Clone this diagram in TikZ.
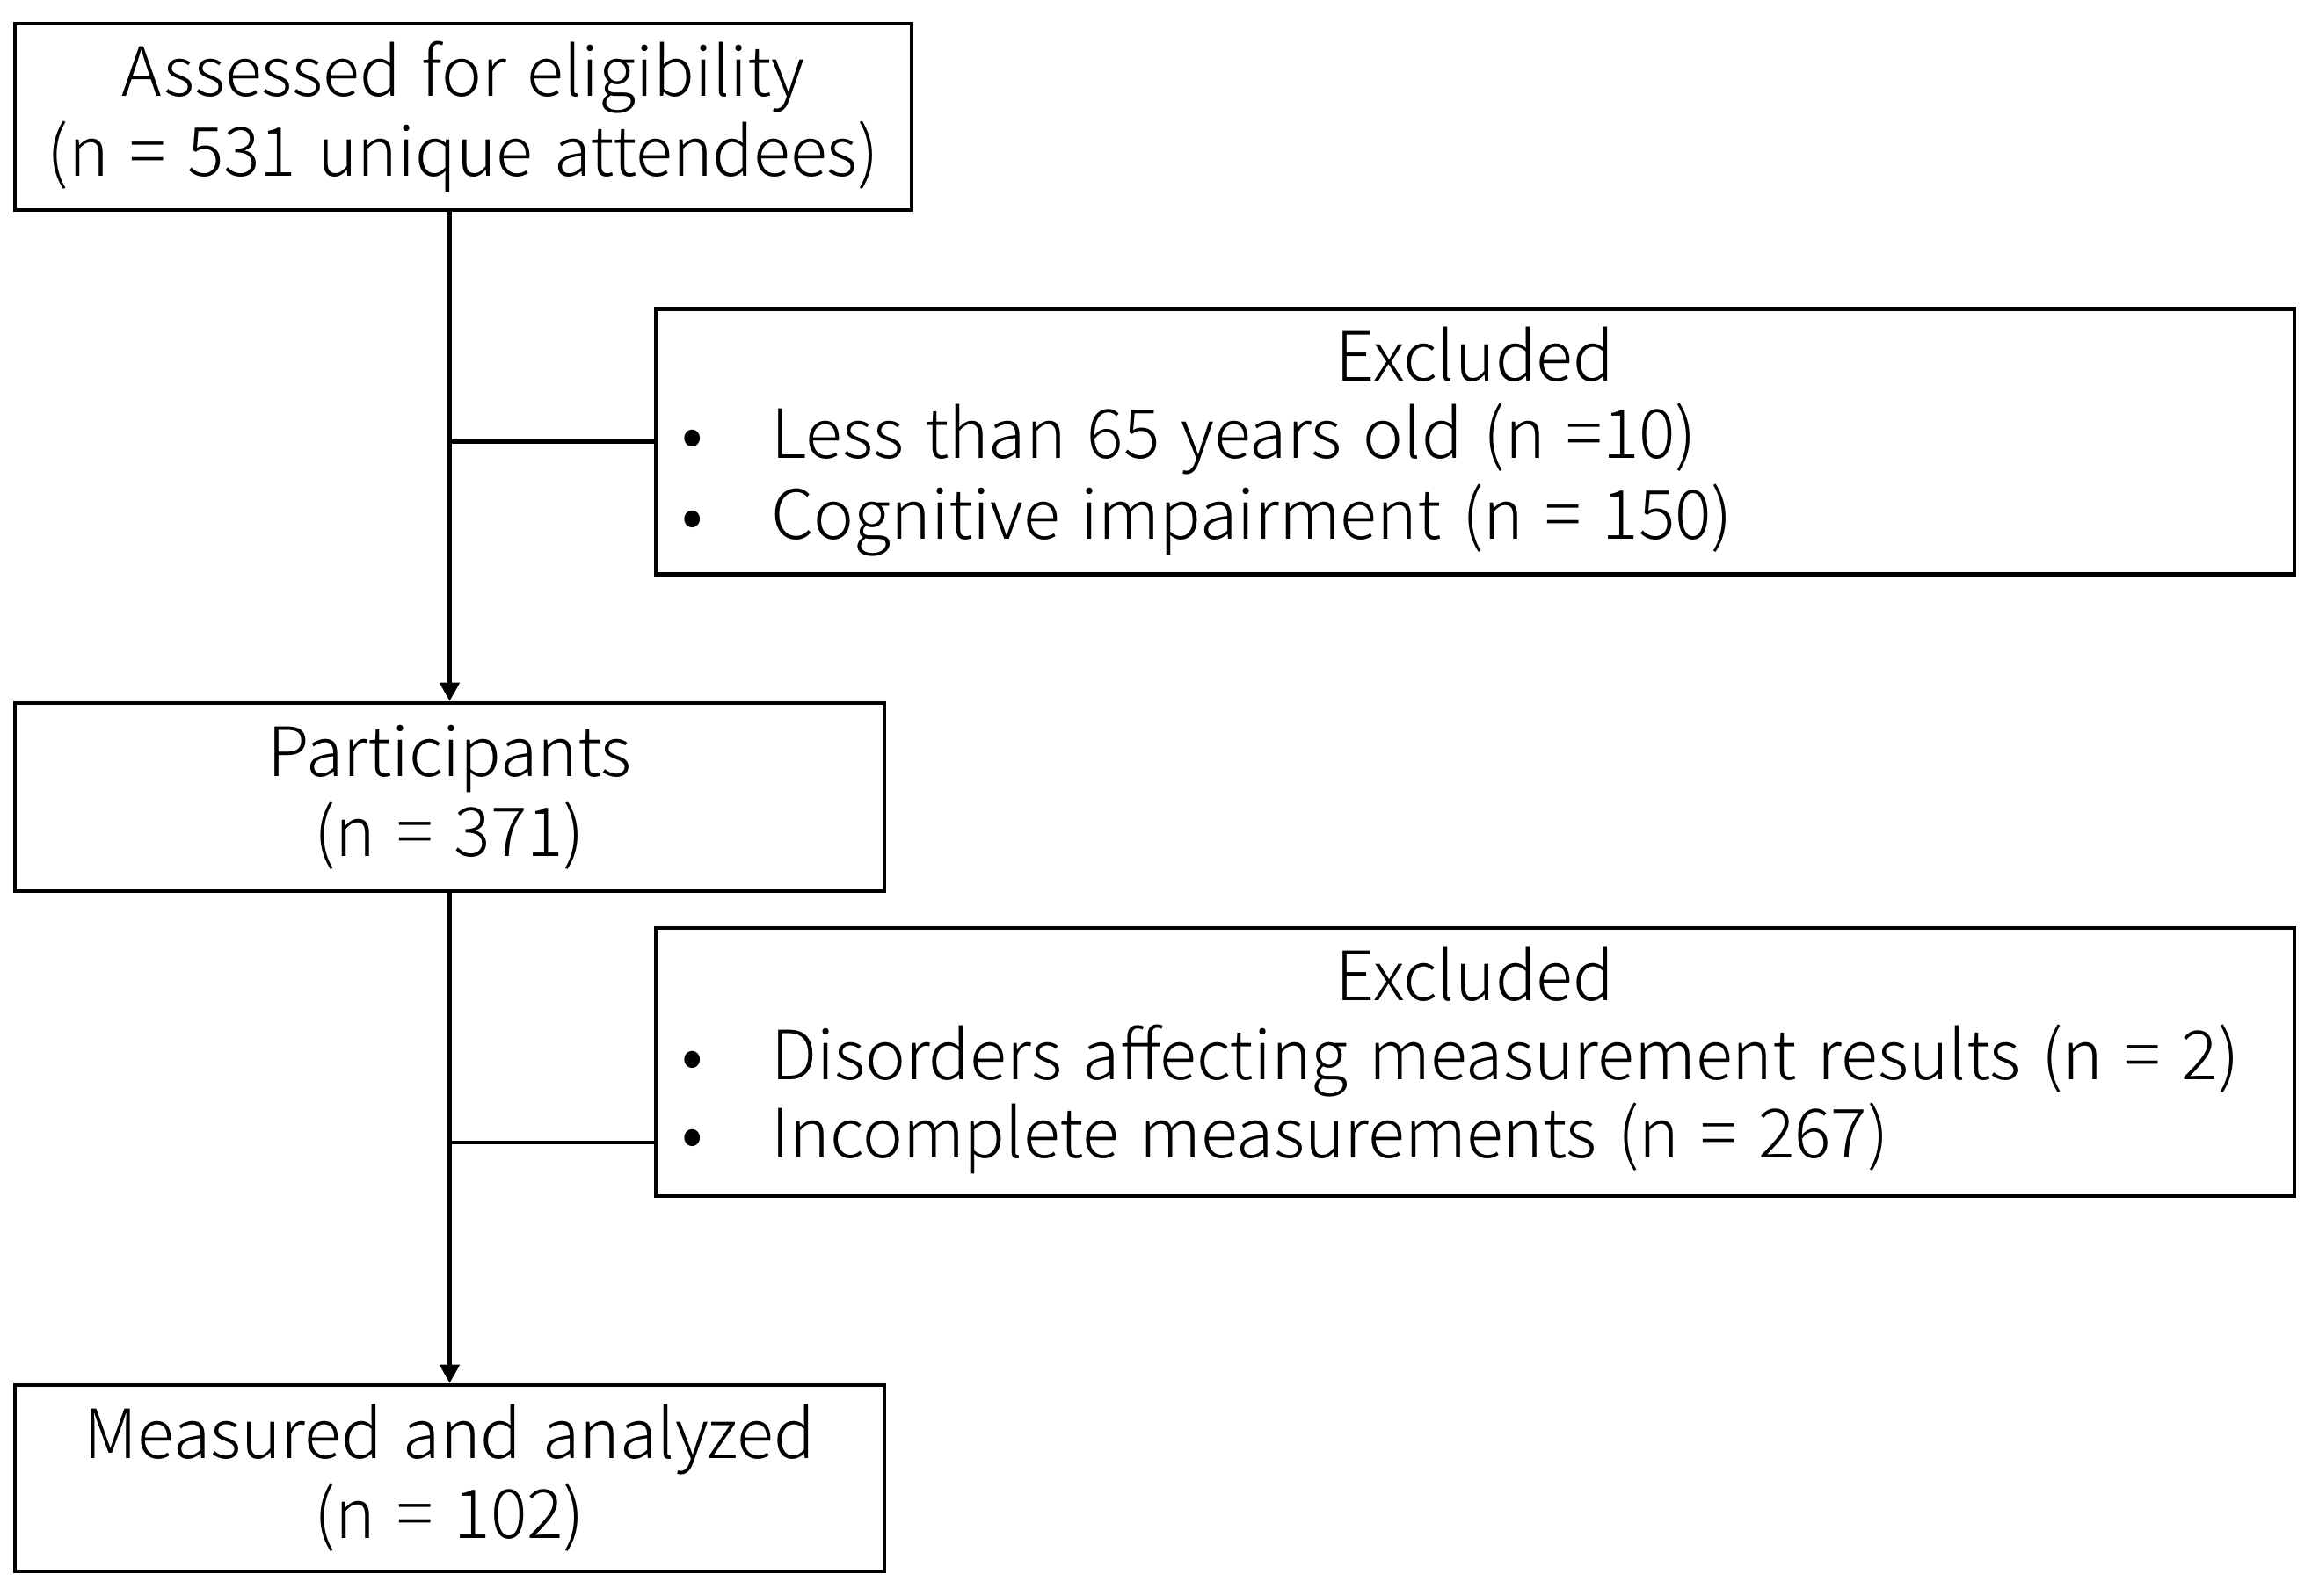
\documentclass[tikz,border=0pt]{standalone}
\usepackage{fontspec}
\setmainfont{Noto Sans CJK JP Light}[WordSpace=1.4]
\usetikzlibrary{arrows.meta}
\begin{document}
\begin{tikzpicture}[
  box/.style={draw,line width=1.3pt,align=center,inner sep=0pt,font=\fontsize{22}{25.9}\selectfont},
  txt/.style={anchor=base,inner sep=0pt,font=\fontsize{22}{25.9}\selectfont},
  line width=1.3pt]
\useasboundingbox (0,0) rectangle (26.3,-18.16);
\node[box,minimum width=10.2cm,minimum height=2.12cm] (elig) at (5.27,-1.33) {Assessed for eligibility\\(n = 531 unique attendees)};
\node[box,minimum width=9.89cm,minimum height=2.14cm] (part) at (5.115,-9.07) {Participants\\(n = 371)};
\node[box,minimum width=9.89cm,minimum height=2.12cm] (anal) at (5.115,-16.82) {Measured and analyzed\\(n = 102)};
\node[box,minimum width=18.64cm,minimum height=3.02cm] (exc1) at (16.78,-5.025) {};
\node[txt] (exc1h) at (16.78,-4.33) {Excluded};
\node[txt] (exc1b1) at (7.88,-5.22) {•};
\node[txt,anchor=base west] (exc1t1) at (8.75,-5.22) {Less than 65 years old (n =10)};
\node[txt] (exc1b2) at (7.88,-6.13) {•};
\node[txt,anchor=base west] (exc1t2) at (8.75,-6.13) {Cognitive impairment (n = 150)};
\node[box,minimum width=18.64cm,minimum height=3.05cm] (exc2) at (16.78,-12.085) {};
\node[txt] (exc2h) at (16.78,-11.38) {Excluded};
\node[txt] (exc2b1) at (7.88,-12.28) {•};
\node[txt,anchor=base west] (exc2t1) at (8.75,-12.28) {Disorders affecting measurement results (n = 2)};
\node[txt] (exc2b2) at (7.88,-13.17) {•};
\node[txt,anchor=base west] (exc2t2) at (8.75,-13.17) {Incomplete measurements (n = 267)};
\draw[-{Triangle[length=0.21cm,width=0.22cm]}] (part.north |- elig.south) -- (part.north);
\draw[-{Triangle[length=0.21cm,width=0.22cm]}] (part.south) -- (anal.north);
\coordinate (br1) at (part.north |- exc1.west);
\draw (br1) -- (exc1.west);
\coordinate (br2) at (5.115,-13.0);
\draw (br2) -- (br2 -| exc2.west);
\end{tikzpicture}
\end{document}
